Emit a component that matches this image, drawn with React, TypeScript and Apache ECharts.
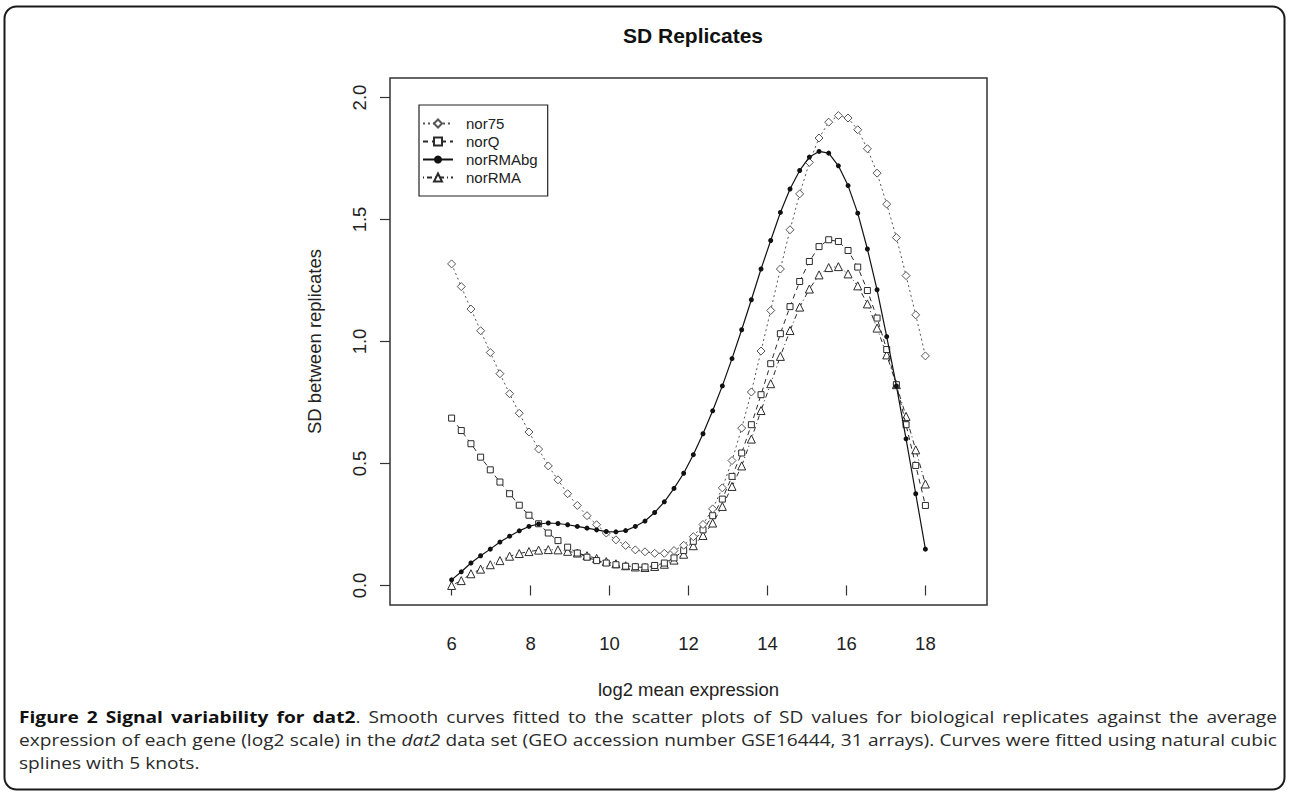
import React, { useEffect, useRef } from "react";
import * as echarts from "echarts";

// ---- data ----
const X_VALUES = [
  6.0, 6.245, 6.49, 6.735, 6.98, 7.224, 7.469, 7.714, 7.959, 8.204,
  8.449, 8.694, 8.939, 9.184, 9.429, 9.673, 9.918, 10.163, 10.408, 10.653,
  10.898, 11.143, 11.388, 11.633, 11.878, 12.122, 12.367, 12.612, 12.857, 13.102,
  13.347, 13.592, 13.837, 14.082, 14.327, 14.571, 14.816, 15.061, 15.306, 15.551,
  15.796, 16.041, 16.286, 16.531, 16.776, 17.02, 17.265, 17.51, 17.755, 18.0,
];

const NOR75 = [
  1.318, 1.225, 1.133, 1.044, 0.955, 0.868, 0.786, 0.706, 0.629, 0.559,
  0.49, 0.433, 0.376, 0.328, 0.286, 0.249, 0.215, 0.187, 0.164, 0.146,
  0.138, 0.132, 0.132, 0.143, 0.165, 0.2, 0.25, 0.314, 0.4, 0.512,
  0.645, 0.793, 0.961, 1.127, 1.297, 1.458, 1.605, 1.734, 1.834, 1.899,
  1.926, 1.916, 1.868, 1.79, 1.69, 1.563, 1.426, 1.27, 1.109, 0.941,
];

const NORQ = [
  0.686, 0.635, 0.581, 0.526, 0.474, 0.424, 0.376, 0.329, 0.288, 0.253,
  0.215, 0.184, 0.157, 0.133, 0.116, 0.102, 0.092, 0.085, 0.079, 0.077,
  0.076, 0.082, 0.092, 0.113, 0.143, 0.181, 0.228, 0.286, 0.354, 0.447,
  0.543, 0.659, 0.782, 0.909, 1.032, 1.143, 1.246, 1.328, 1.389, 1.417,
  1.41, 1.373, 1.305, 1.209, 1.096, 0.967, 0.823, 0.659, 0.492, 0.328,
];

const NORRMABG = [
  0.023, 0.056, 0.092, 0.122, 0.149, 0.178, 0.202, 0.224, 0.242, 0.252,
  0.256, 0.254, 0.249, 0.242, 0.235, 0.228, 0.221, 0.22, 0.225, 0.242,
  0.264, 0.299, 0.343, 0.398, 0.46, 0.536, 0.622, 0.716, 0.818, 0.93,
  1.048, 1.171, 1.297, 1.414, 1.529, 1.625, 1.701, 1.756, 1.779, 1.772,
  1.72, 1.639, 1.526, 1.379, 1.212, 1.02, 0.818, 0.601, 0.376, 0.149,
];

const NORRMA = [
  0.0, 0.02, 0.048, 0.067, 0.085, 0.102, 0.12, 0.131, 0.139, 0.145,
  0.147, 0.146, 0.14, 0.133, 0.122, 0.111, 0.098, 0.089, 0.081, 0.076,
  0.074, 0.078, 0.087, 0.104, 0.128, 0.163, 0.205, 0.256, 0.324, 0.406,
  0.49, 0.6, 0.717, 0.827, 0.939, 1.045, 1.141, 1.215, 1.273, 1.303,
  1.307, 1.277, 1.228, 1.154, 1.055, 0.945, 0.823, 0.693, 0.556, 0.416,
];

const SERIES_NAMES = ["nor75", "norQ", "norRMAbg", "norRMA"];
const X_TICKS = [6, 8, 10, 12, 14, 16, 18];
const Y_TICKS = [0, 0.5, 1.0, 1.5, 2.0];

const TITLE = "SD Replicates";
const X_NAME = "log2 mean expression";
const Y_NAME = "SD between replicates";

// caption: [text, style, attachToPrevious]
type Seg = [string, string, boolean?];
const CAPTION_LINE1: Seg[] = [
  ["Figure", "b"], ["2", "b"], ["Signal", "b"], ["variability", "b"], ["for", "b"], ["dat2", "b"], [".", "n", true],
  ["Smooth", "n"], ["curves", "n"], ["fitted", "n"], ["to", "n"], ["the", "n"], ["scatter", "n"], ["plots", "n"],
  ["of", "n"], ["SD", "n"], ["values", "n"], ["for", "n"], ["biological", "n"], ["replicates", "n"],
  ["against", "n"], ["the", "n"], ["average", "n"],
];
const CAPTION_LINE2: Seg[] = [
  ["expression", "n"], ["of", "n"], ["each", "n"], ["gene", "n"], ["(log2", "n"], ["scale)", "n"], ["in", "n"],
  ["the", "n"], ["dat2", "i"], ["data", "n"], ["set", "n"], ["(GEO", "n"], ["accession", "n"], ["number", "n"],
  ["GSE16444,", "n"], ["31", "n"], ["arrays).", "n"], ["Curves", "n"], ["were", "n"], ["fitted", "n"],
  ["using", "n"], ["natural", "n"], ["cubic", "n"],
];
const CAPTION_LINE3: Seg[] = [["splines", "n"], ["with", "n"], ["5", "n"], ["knots.", "n"]];

const AXIS_FONT = "Liberation Sans, Arial, sans-serif";
const CAP_FONT = "Open Sans";
const CAP_SIZE = 16.5;

function fontFor(style: string, size: number) {
  const w = style === "b" ? "bold" : "normal";
  const s = style === "i" ? "italic" : "normal";
  return `${s} ${w} ${size}px "${CAP_FONT}"`;
}

function makeMeasurer() {
  const canvas = document.createElement("canvas");
  const ctx = canvas.getContext("2d")!;
  return (t: string, st: string, size: number) => {
    ctx.font = fontFor(st, size);
    return ctx.measureText(t).width;
  };
}

function naturalWidth(segs: Seg[], size: number, measure: any) {
  let w = 0;
  segs.forEach(([t, st, attach], i) => {
    if (i > 0 && !attach) w += measure(" ", "n", size);
    w += measure(t, st, size);
  });
  return w;
}

function buildCaptionLine(
  segs: Seg[], y: number, left: number, right: number | null, size: number, sx: number, measure: any
) {
  const words: { segs: { t: string; st: string; w: number }[]; w: number }[] = [];
  segs.forEach(([t, st, attach]) => {
    const w = measure(t, st, size) * sx;
    if (attach && words.length) {
      const last = words[words.length - 1];
      last.segs.push({ t, st, w });
      last.w += w;
    } else {
      words.push({ segs: [{ t, st, w }], w });
    }
  });
  const total = words.reduce((a, b) => a + b.w, 0);
  const space = measure(" ", "n", size) * sx;
  const gap = right !== null && words.length > 1 ? (right - left - total) / (words.length - 1) : space;
  const els: any[] = [];
  let x = left;
  words.forEach((wd) => {
    let px = x;
    wd.segs.forEach((sg) => {
      els.push({
        type: "text",
        x: px,
        y,
        scaleX: sx,
        silent: true,
        style: {
          text: sg.t,
          fontFamily: CAP_FONT,
          fontSize: size,
          fontWeight: sg.st === "b" ? "bold" : "normal",
          fontStyle: sg.st === "i" ? "italic" : "normal",
          fill: sg.st === "b" ? "#111" : "#2a2a2a",
          textAlign: "left",
          textVerticalAlign: "middle",
        },
      });
      px += sg.w;
    });
    x += wd.w + gap;
  });
  return els;
}

export default function App() {
  const ref = useRef<HTMLDivElement>(null);

  useEffect(() => {
    if (!ref.current) return;
    const chart = echarts.init(ref.current, null, { renderer: "svg" });

    const mk = (arr: number[]) => X_VALUES.map((x, i) => [x, arr[i]]);
    const lineCol = "#2b2b2b";

    const measure = makeMeasurer();
    const capLeft = 19;
    const capRight = 1277;
    const avail = capRight - capLeft - 6;
    const nat1 = naturalWidth(CAPTION_LINE1, CAP_SIZE, measure);
    const nat2 = naturalWidth(CAPTION_LINE2, CAP_SIZE, measure);
    let sx = Math.min(avail / nat1, avail / nat2);
    sx = Math.max(1, Math.min(1.2, sx));

    const caption = [
      ...buildCaptionLine(CAPTION_LINE1, 717, capLeft, capRight, CAP_SIZE, sx, measure),
      ...buildCaptionLine(CAPTION_LINE2, 740, capLeft, capRight, CAP_SIZE, sx, measure),
      ...buildCaptionLine(CAPTION_LINE3, 763, capLeft, null, CAP_SIZE, sx, measure),
    ];

    const option: any = {
      animation: false,
      backgroundColor: "#ffffff",
      title: {
        text: TITLE,
        left: 688,
        top: 20,
        textAlign: "center",
        textStyle: { fontFamily: AXIS_FONT, fontWeight: "bold", fontSize: 21, color: "#111" },
      },
      legend: {
        orient: "vertical",
        left: 419,
        top: 105,
        data: SERIES_NAMES,
        borderColor: "#222",
        borderWidth: 1.2,
        backgroundColor: "#fff",
        padding: [11, 10, 11, 3],
        itemGap: 3,
        itemWidth: 30,
        itemHeight: 10,
        textStyle: { fontFamily: AXIS_FONT, fontSize: 15, color: "#222", padding: [0, 0, 0, 8] },
      },
      grid: {
        left: 390,
        top: 78,
        width: 597,
        height: 527,
        show: true,
        borderColor: "#333",
        borderWidth: 1.5,
        backgroundColor: "transparent",
      },
      xAxis: {
        type: "value",
        min: 4.44,
        max: 19.56,
        axisLine: { show: false },
        splitLine: { show: false },
        axisTick: { show: true, length: 10, lineStyle: { color: "#333", width: 1.2 }, customValues: X_TICKS },
        axisLabel: {
          customValues: X_TICKS,
          margin: 29,
          fontFamily: AXIS_FONT,
          fontSize: 18.5,
          color: "#222",
        },
        name: X_NAME,
        nameLocation: "middle",
        nameGap: 75,
        nameTextStyle: { fontFamily: AXIS_FONT, fontSize: 18.5, color: "#222" },
      },
      yAxis: {
        type: "value",
        min: -0.08,
        max: 2.08,
        axisLine: { show: false },
        splitLine: { show: false },
        axisTick: { show: true, length: 10, lineStyle: { color: "#333", width: 1.2 }, customValues: Y_TICKS },
        axisLabel: {
          customValues: Y_TICKS,
          rotate: 90,
          margin: 21,
          fontFamily: AXIS_FONT,
          fontSize: 18.5,
          color: "#222",
          formatter: (v: number) => v.toFixed(1),
        },
        name: Y_NAME,
        nameLocation: "middle",
        nameRotate: 90,
        nameGap: 66,
        nameTextStyle: { fontFamily: AXIS_FONT, fontSize: 18.5, color: "#222" },
      },
      graphic: [
        {
          type: "rect",
          silent: true,
          shape: { x: 4.5, y: 6.5, width: 1280, height: 783, r: 12 },
          style: { fill: "none", stroke: "#1a1a1a", lineWidth: 2 },
        },
        ...caption,
      ],
      series: [
        {
          name: SERIES_NAMES[3],
          type: "line",
          data: mk(NORRMA),
          symbol: "triangle",
          symbolSize: 8,
          showAllSymbol: true,
          lineStyle: { color: lineCol, width: 1, type: [1, 3, 5, 3] },
          itemStyle: { color: "#fff", borderColor: lineCol, borderWidth: 1 },
          z: 2,
        },
        {
          name: SERIES_NAMES[1],
          type: "line",
          data: mk(NORQ),
          symbol: "rect",
          symbolSize: 6,
          showAllSymbol: true,
          lineStyle: { color: lineCol, width: 1, type: [5, 4] },
          itemStyle: { color: "#fff", borderColor: lineCol, borderWidth: 1 },
          z: 3,
        },
        {
          name: SERIES_NAMES[0],
          type: "line",
          data: mk(NOR75),
          symbol: "diamond",
          symbolSize: 8,
          showAllSymbol: true,
          lineStyle: { color: "#555", width: 1, type: [2, 3] },
          itemStyle: { color: "#fff", borderColor: "#555", borderWidth: 1 },
          z: 4,
        },
        {
          name: SERIES_NAMES[2],
          type: "line",
          data: mk(NORRMABG),
          symbol: "circle",
          symbolSize: 5,
          showAllSymbol: true,
          lineStyle: { color: "#111", width: 1.2, type: "solid" },
          itemStyle: { color: "#111", borderColor: "#111", borderWidth: 0 },
          z: 5,
        },
      ],
    };

    chart.setOption(option);
    return () => chart.dispose();
  }, []);

  return (
    <div
      style={{ position: "fixed", left: 0, top: 0, width: 1290, height: 796, background: "#fff" }}
    >
      <div ref={ref} style={{ width: 1290, height: 796 }} />
    </div>
  );
}
